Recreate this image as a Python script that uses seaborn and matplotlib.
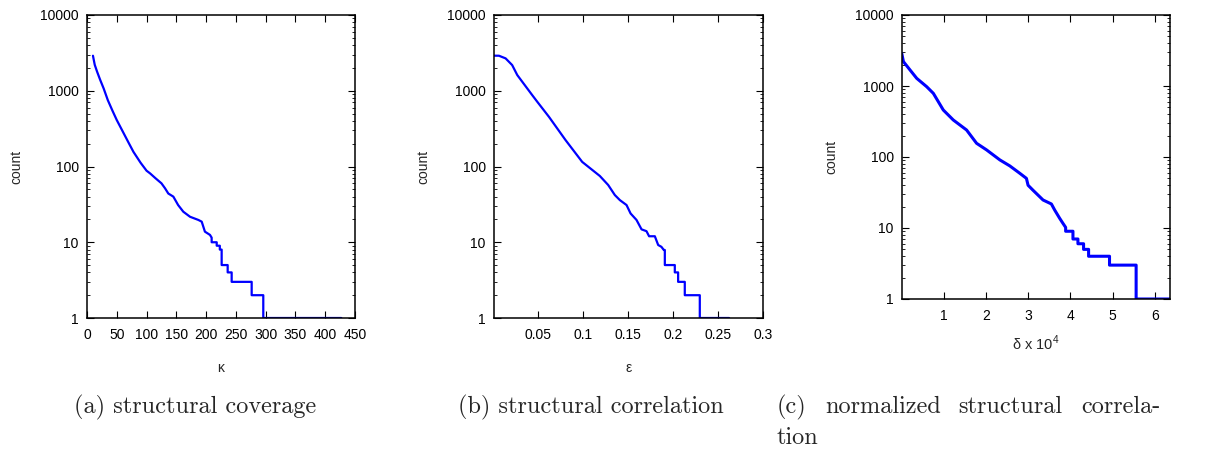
import numpy as np
import pandas as pd
import matplotlib
matplotlib.use("Agg")
import matplotlib.pyplot as plt
from matplotlib.ticker import FixedLocator, LogLocator, NullFormatter, NullLocator
import seaborn as sns

# (a) structural coverage: count of items versus kappa
kappa = [10, 13, 17, 22, 28, 35, 43, 50, 60, 70, 78, 90, 100, 106, 115, 125, 131,
         136.5, 145, 153, 161.7, 173, 187, 192.6, 198, 206.5, 209.3, 209.3, 217.8,
         217.8, 223, 223, 226.1, 226.1, 236.2, 236.2, 242.9, 242.9, 276.5, 276.5,
         296, 296, 427]
kappa_count = [2900, 2200, 1780, 1400, 1070, 750, 540, 410, 290, 205, 156, 112, 88,
               81, 70, 60, 51.6, 44, 40, 31, 25.3, 21.7, 19.7, 18.7, 13.8, 12.5, 11.5,
               10, 10, 9, 9, 8, 8, 5, 5, 4, 4, 3, 3, 2, 2, 1, 1]

# (b) structural correlation: count of items versus epsilon
eps = [0.001, 0.0063, 0.0137, 0.021, 0.0267, 0.0433, 0.0489, 0.0619, 0.0804, 0.0989,
       0.1185, 0.1278, 0.1352, 0.1408, 0.1482, 0.1527, 0.1593, 0.1649, 0.1704, 0.1733,
       0.1797, 0.1834, 0.187, 0.1897, 0.1908, 0.1908, 0.2019, 0.2019, 0.2056, 0.2056,
       0.213, 0.213, 0.2297, 0.2297, 0.2623]
eps_count = [2903, 2900, 2675, 2183, 1610, 876, 716, 453, 223, 115, 75, 57, 42, 36, 31,
             24, 19.7, 14.8, 14, 12, 12, 9.2, 8.7, 7.9, 7.9, 5, 5, 4, 4, 3, 3, 2, 2, 1, 1]

# (c) normalized structural correlation: count of items versus delta (x 10^4)
delta = [0.0, 0.04, 0.197, 0.355, 0.591, 0.749, 0.985, 1.222, 1.537, 1.774, 2.01,
         2.326, 2.561, 2.798, 2.956, 2.995, 3.113, 3.35, 3.548, 3.626, 3.744, 3.823,
         3.886, 3.886, 4.059, 4.059, 4.177, 4.177, 4.311, 4.311, 4.43, 4.43, 4.926,
         4.926, 5.557, 5.557, 6.4]
delta_count = [2884, 2203, 1680, 1282, 978, 788, 459, 332, 240, 156, 126, 91, 75, 59,
               50, 40, 34, 24.8, 21.8, 17.9, 13.7, 11.6, 10.2, 9, 9, 7, 7, 6, 6, 5, 5,
               4, 4, 3, 3, 1, 1]

y_ticks = [1, 10, 100, 1000, 10000]
y_tick_labels = ["1", "10", "100", "1000", "10000"]

kappa_ticks = [0, 50, 100, 150, 200, 250, 300, 350, 400, 450]
eps_ticks = [0.05, 0.1, 0.15, 0.2, 0.25, 0.3]
eps_tick_labels = ["0.05", "0.1", "0.15", "0.2", "0.25", "0.3"]
delta_ticks = [1, 2, 3, 4, 5, 6]

captions = ["(a) structural coverage", "(b) structural correlation"]
caption_c_words = ["(c)", "normalized", "structural", "correla-"]
caption_c_tail = "tion"

sns.set_style("ticks")
SANS = ["Liberation Sans", "DejaVu Sans"]
plt.rcParams["font.family"] = SANS
plt.rcParams["mathtext.fontset"] = "custom"
plt.rcParams["mathtext.rm"] = "Liberation Sans"

fig = plt.figure(figsize=(12.12, 4.5), dpi=100)
W, H = 1212, 450


def axes_px(left, right, top, bottom):
    return fig.add_axes([left / W, 1 - bottom / H, (right - left) / W, (bottom - top) / H])


ax_a = axes_px(87, 355, 15, 318)
ax_b = axes_px(494, 763, 15, 318)
ax_c = axes_px(902, 1170, 15, 299)

BLUE = "#0000ff"
TICK_FS = 10

panels = [
    (ax_a, kappa, kappa_count, 1.6),
    (ax_b, eps, eps_count, 1.6),
    (ax_c, delta, delta_count, 2.2),
]

for ax, xs, ys, lw in panels:
    df = pd.DataFrame({"x": xs, "count": ys})
    sns.lineplot(data=df, x="x", y="count", ax=ax, color=BLUE, linewidth=lw,
                 estimator=None, sort=False)
    ax.set_yscale("log")
    ax.set_ylim(1, 10000)
    ax.yaxis.set_major_locator(FixedLocator(y_ticks))
    ax.set_yticklabels(y_tick_labels)
    ax.yaxis.set_minor_locator(LogLocator(base=10, subs=np.arange(2, 10)))
    ax.yaxis.set_minor_formatter(NullFormatter())
    ax.xaxis.set_minor_locator(NullLocator())
    ax.tick_params(which="both", direction="in", top=True, right=True,
                   colors="black", labelsize=TICK_FS)
    ax.tick_params(which="major", length=5, width=0.8)
    ax.tick_params(which="minor", length=2.5, width=0.6)
    ax.tick_params(axis="x", pad=7)
    ax.tick_params(axis="y", pad=6)
    for sp in ax.spines.values():
        sp.set_color("black")
        sp.set_linewidth(1.1)
    ax.set_ylabel("count", fontsize=TICK_FS, labelpad=12)
    ax.set_xlabel("")

ax_a.set_xlim(0, 450)
ax_a.set_xticks(kappa_ticks)
ax_a.set_xticklabels([str(t) for t in kappa_ticks])

ax_b.set_xlim(0.0008, 0.3)
ax_b.set_xticks(eps_ticks)
ax_b.set_xticklabels(eps_tick_labels)

ax_c.set_xlim(0.006, 6.36)
ax_c.set_xticks(delta_ticks)
ax_c.set_xticklabels([str(t) for t in delta_ticks])

ax_a.set_xlabel("κ", fontsize=10, labelpad=14)
ax_b.set_xlabel("ε", fontsize=10, labelpad=14)
ax_c.set_xlabel(r"δ x 10$^{4}$", fontsize=10.5, labelpad=8)

# sub-figure captions in a serif face
SERIF = ["cmr10", "DejaVu Serif"]
CAP_FS = 17.5
CAP_Y = 1 - 407 / H
fig.text(74 / W, CAP_Y, captions[0], family=SERIF, fontsize=CAP_FS, va="center")
fig.text(458 / W, CAP_Y, captions[1], family=SERIF, fontsize=CAP_FS, va="center")

# justified first line of caption (c), spread between two margins
line_left, line_right = 777, 1160
renderer = fig.canvas.get_renderer()
word_texts = [fig.text(0, CAP_Y, w, family=SERIF, fontsize=CAP_FS, va="center")
              for w in caption_c_words]
widths = [t.get_window_extent(renderer=renderer).width for t in word_texts]
gap = (line_right - line_left - sum(widths)) / (len(widths) - 1)
x = line_left
for t, w in zip(word_texts, widths):
    t.set_x(x / W)
    x += w + gap
fig.text(line_left / W, 1 - 438 / H, caption_c_tail, family=SERIF, fontsize=CAP_FS,
         va="center")

fig.savefig("out.png", dpi=100)
